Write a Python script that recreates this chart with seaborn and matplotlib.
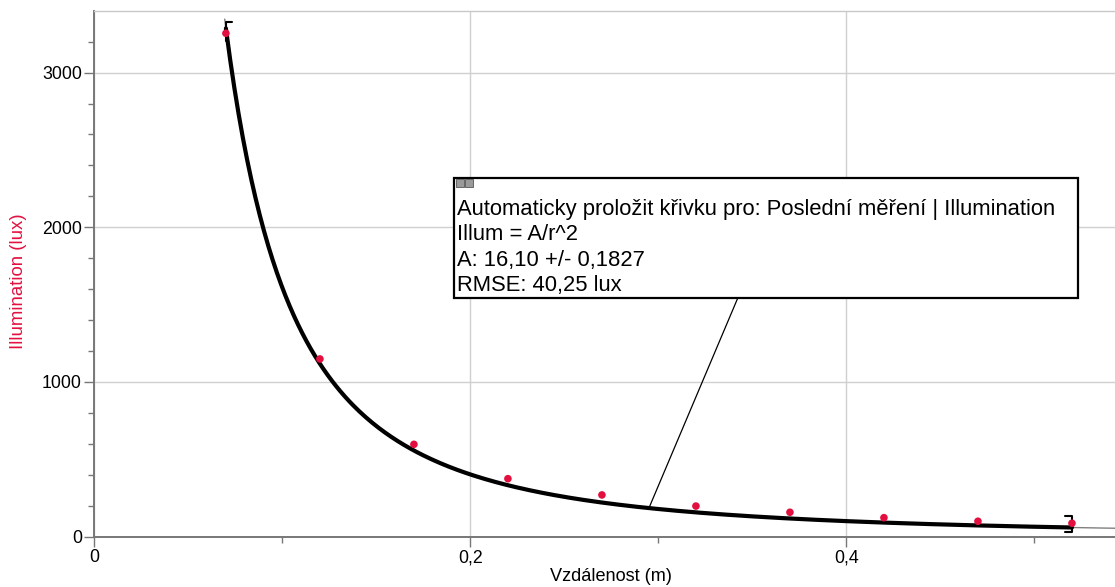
import numpy as np
import pandas as pd
import matplotlib
matplotlib.use("Agg")
import matplotlib.pyplot as plt
from matplotlib.patches import Rectangle
from matplotlib.ticker import MultipleLocator, FuncFormatter
import seaborn as sns

# ---- data ----
distance = [0.07, 0.12, 0.17, 0.22, 0.27, 0.32, 0.37, 0.42, 0.47, 0.52]
illumination = [3254, 1149, 597, 375, 270, 198, 158, 123, 100, 87]
fit_A = 16.10
fit_A_err = 0.1827
rmse = 40.25
x_label = "Vzdálenost (m)"
y_label = "Illumination (lux)"
box_lines = [
    "Automaticky proložit křivku pro: Poslední měření | Illumination",
    "Illum = A/r^2",
    "A: 16,10 +/- 0,1827",
    "RMSE: 40,25 lux",
]

sns.set_theme(style="white")
plt.rcParams["font.family"] = ["Liberation Sans", "DejaVu Sans"]

W, H = 1115, 587
fig = plt.figure(figsize=(W / 100, H / 100), dpi=100)
x0_px, y0_px, ytop_px = 94.3, 536.7, 11.0
ax = fig.add_axes([x0_px / W, 1 - y0_px / H, 1 - x0_px / W, (y0_px - ytop_px) / H])

xmin, xmax = 0.0, 0.5429
ymin, ymax = 0, 3398
ax.set_xlim(xmin, xmax)
ax.set_ylim(ymin, ymax)

# pixel -> data helpers (for annotation layout)
px_per_x = (W - x0_px) / (xmax - xmin)
px_per_y = (y0_px - ytop_px) / (ymax - ymin)
def dx(px):
    return (px - x0_px) / px_per_x
def dy(py):
    return (y0_px - py) / px_per_y

red = "#e3103f"
df = pd.DataFrame({"r": distance, "E": illumination})

# fit curve over data range (thick) and extension (thin gray)
r0, r1 = min(distance), max(distance)
r_fit = np.linspace(r0, r1, 400)
fit_df = pd.DataFrame({"r": r_fit, "E": fit_A / r_fit ** 2})
r_ext_hi = np.linspace(r1, xmax, 50)
r_ext_lo = np.linspace(np.sqrt(fit_A / (fit_A / r0 ** 2 + 60)), r0, 10)
sns.lineplot(x=r_ext_hi, y=fit_A / r_ext_hi ** 2, ax=ax, color="#808080", lw=1.0, zorder=2)
sns.lineplot(x=r_ext_lo, y=fit_A / r_ext_lo ** 2, ax=ax, color="#808080", lw=1.0, zorder=2)
sns.lineplot(data=fit_df, x="r", y="E", ax=ax, color="black", lw=3.0, zorder=3)

# brackets at the fit range ends
e0, e1 = fit_A / r0 ** 2, fit_A / r1 ** 2
ax.plot([r0, r0, r0 + 0.0035], [e0 - 80, e0 + 40, e0 + 40], color="black", lw=1.5, zorder=4)
ax.plot([r1 - 0.0035, r1, r1, r1 - 0.0035], [e1 - 30, e1 - 30, e1 + 75, e1 + 75],
        color="black", lw=1.5, zorder=4)

sns.scatterplot(data=df, x="r", y="E", ax=ax, color=red, s=30, edgecolor="none", zorder=5)

# annotation box
bx0, bx1, by_top, by_bot = dx(453.5), dx(1078), dy(178.5), dy(297.5)
ax.add_patch(Rectangle((bx0, by_bot), bx1 - bx0, by_top - by_bot, fc="white",
                       ec="black", lw=1.6, zorder=6))
# small window icons in the corner
for ix in (455.5, 464.5):
    ax.add_patch(Rectangle((dx(ix), dy(187)), dx(ix + 8) - dx(ix), dy(179) - dy(187),
                           fc="#9a9a9a", ec="#555555", lw=0.6, zorder=7))

# leader line from annotation box to curve
r_lead = 0.295
ax.plot([r_lead, dx(738)], [fit_A / r_lead ** 2, by_bot], color="black", lw=0.9, zorder=4)

for i, line in enumerate(box_lines):
    ax.text(dx(457), dy(215 + 25.3 * i), line, fontsize=15.8, color="black",
            ha="left", va="baseline", zorder=8)

ax.xaxis.set_major_locator(MultipleLocator(0.2))
ax.xaxis.set_minor_locator(MultipleLocator(0.1))
ax.yaxis.set_major_locator(MultipleLocator(1000))
ax.yaxis.set_minor_locator(MultipleLocator(200))

def fmt_x(v, pos):
    if abs(v) < 1e-9:
        return "0"
    return f"{v:.1f}".replace(".", ",")

ax.xaxis.set_major_formatter(FuncFormatter(fmt_x))
ax.yaxis.set_major_formatter(FuncFormatter(lambda v, p: f"{int(round(v))}"))

ax.grid(True, which="major", color="#d0d0d0", lw=1.0)
for s in ["left", "bottom"]:
    ax.spines[s].set_color("#777777")
    ax.spines[s].set_linewidth(1.4)
ax.spines["top"].set_color("#c8c8c8")
ax.spines["top"].set_linewidth(1.0)
ax.spines["right"].set_visible(False)

ax.tick_params(which="major", direction="out", length=7, width=1, color="#777777",
               labelsize=12.8, labelcolor="black", left=True, bottom=True, pad=2)
ax.tick_params(which="minor", direction="out", length=4, width=1, color="#777777",
               left=True, bottom=True)

ax.set_xlabel(x_label, fontsize=13.1, color="black", va="bottom")
ax.xaxis.set_label_coords((611 - x0_px) / (W - x0_px), (y0_px - 585) / (y0_px - ytop_px))
ax.set_ylabel(y_label, fontsize=13.4, color=red)
ax.yaxis.set_label_coords((18.5 - x0_px) / (W - x0_px), (y0_px - 281) / (y0_px - ytop_px))
ax.yaxis.label.set_va("center")

fig.savefig("out.png", dpi=100)
